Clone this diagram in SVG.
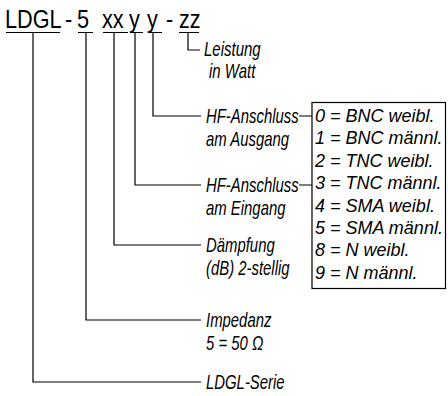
<svg xmlns="http://www.w3.org/2000/svg" width="448" height="396" viewBox="0 0 448 396">
<style>
.ln{stroke:#000;stroke-width:1.2;fill:none}
.t{font-family:"Liberation Sans",Arial,sans-serif;font-size:25.5px;fill:#000}
.c{font-family:"Liberation Sans",Arial,sans-serif;font-size:20px;font-style:italic;fill:#000}
.b{font-family:"Liberation Sans",Arial,sans-serif;font-size:18px;font-style:italic;fill:#000}
</style>
<rect width="448" height="396" fill="#fff"/>
<g id="title">
<text class="t" transform="translate(5 28) scale(0.85 1)">LDGL</text>
<text class="t" transform="translate(65 28) scale(0.85 1)">-</text>
<text class="t" transform="translate(77 28) scale(0.85 1)">5</text>
<text class="t" transform="translate(102 28) scale(0.85 1)">xx</text>
<text class="t" transform="translate(129 28) scale(0.85 1)">y</text>
<text class="t" transform="translate(147 28) scale(0.85 1)">y</text>
<text class="t" transform="translate(166 28) scale(0.85 1)">-</text>
<text class="t" transform="translate(179 28) scale(0.85 1)">zz</text>
</g>
<g id="connectors">
<path class="ln" d="M6 32.5H60M78 32.5H93M103 32.5H128M130 32.5H143M148 32.5H162M179 32.5H199"/>
<path class="ln" d="M188 32.5V50H200"/>
<path class="ln" d="M153 32.5V116H201"/>
<path class="ln" d="M135 32.5V185H201"/>
<path class="ln" d="M114 32.5V245H201"/>
<path class="ln" d="M86 32.5V320H201"/>
<path class="ln" d="M33 32.5V382H201"/>
<path class="ln" d="M299 116H312M299 185H312"/>
</g>
<g id="leistung">
<text class="c" transform="translate(204 56) scale(0.75 1)">Leistung</text>
<text class="c" transform="translate(209 78) scale(0.75 1)">in Watt</text>
</g>
<g id="hf-ausgang">
<text class="c" transform="translate(206 123) scale(0.745 1)">HF-Anschluss</text>
<text class="c" transform="translate(206 146) scale(0.745 1)">am Ausgang</text>
</g>
<g id="hf-eingang">
<text class="c" transform="translate(206 192) scale(0.745 1)">HF-Anschluss</text>
<text class="c" transform="translate(206 215) scale(0.745 1)">am Eingang</text>
</g>
<g id="daempfung">
<text class="c" transform="translate(206 252) scale(0.745 1)">Dämpfung</text>
<text class="c" transform="translate(206 275) scale(0.745 1)">(dB) 2-stellig</text>
</g>
<g id="impedanz">
<text class="c" transform="translate(206 327) scale(0.745 1)">Impedanz</text>
<text class="c" transform="translate(206 350) scale(0.745 1)">5 = 50 Ω</text>
</g>
<g id="serie">
<text class="c" transform="translate(206 389) scale(0.745 1)">LDGL-Serie</text>
</g>
<g id="code-table">
<rect class="ln" x="312" y="102.5" width="133.5" height="186"/>
<text class="b" x="315" y="122">0 = BNC weibl.</text>
<text class="b" x="315" y="144.4">1 = BNC männl.</text>
<text class="b" x="315" y="166.8">2 = TNC weibl.</text>
<text class="b" x="315" y="189.2">3 = TNC männl.</text>
<text class="b" x="315" y="211.6">4 = SMA weibl.</text>
<text class="b" x="315" y="234">5 = SMA männl.</text>
<text class="b" x="315" y="256.4">8 = N weibl.</text>
<text class="b" x="315" y="278.8">9 = N männl.</text>
</g>
</svg>
